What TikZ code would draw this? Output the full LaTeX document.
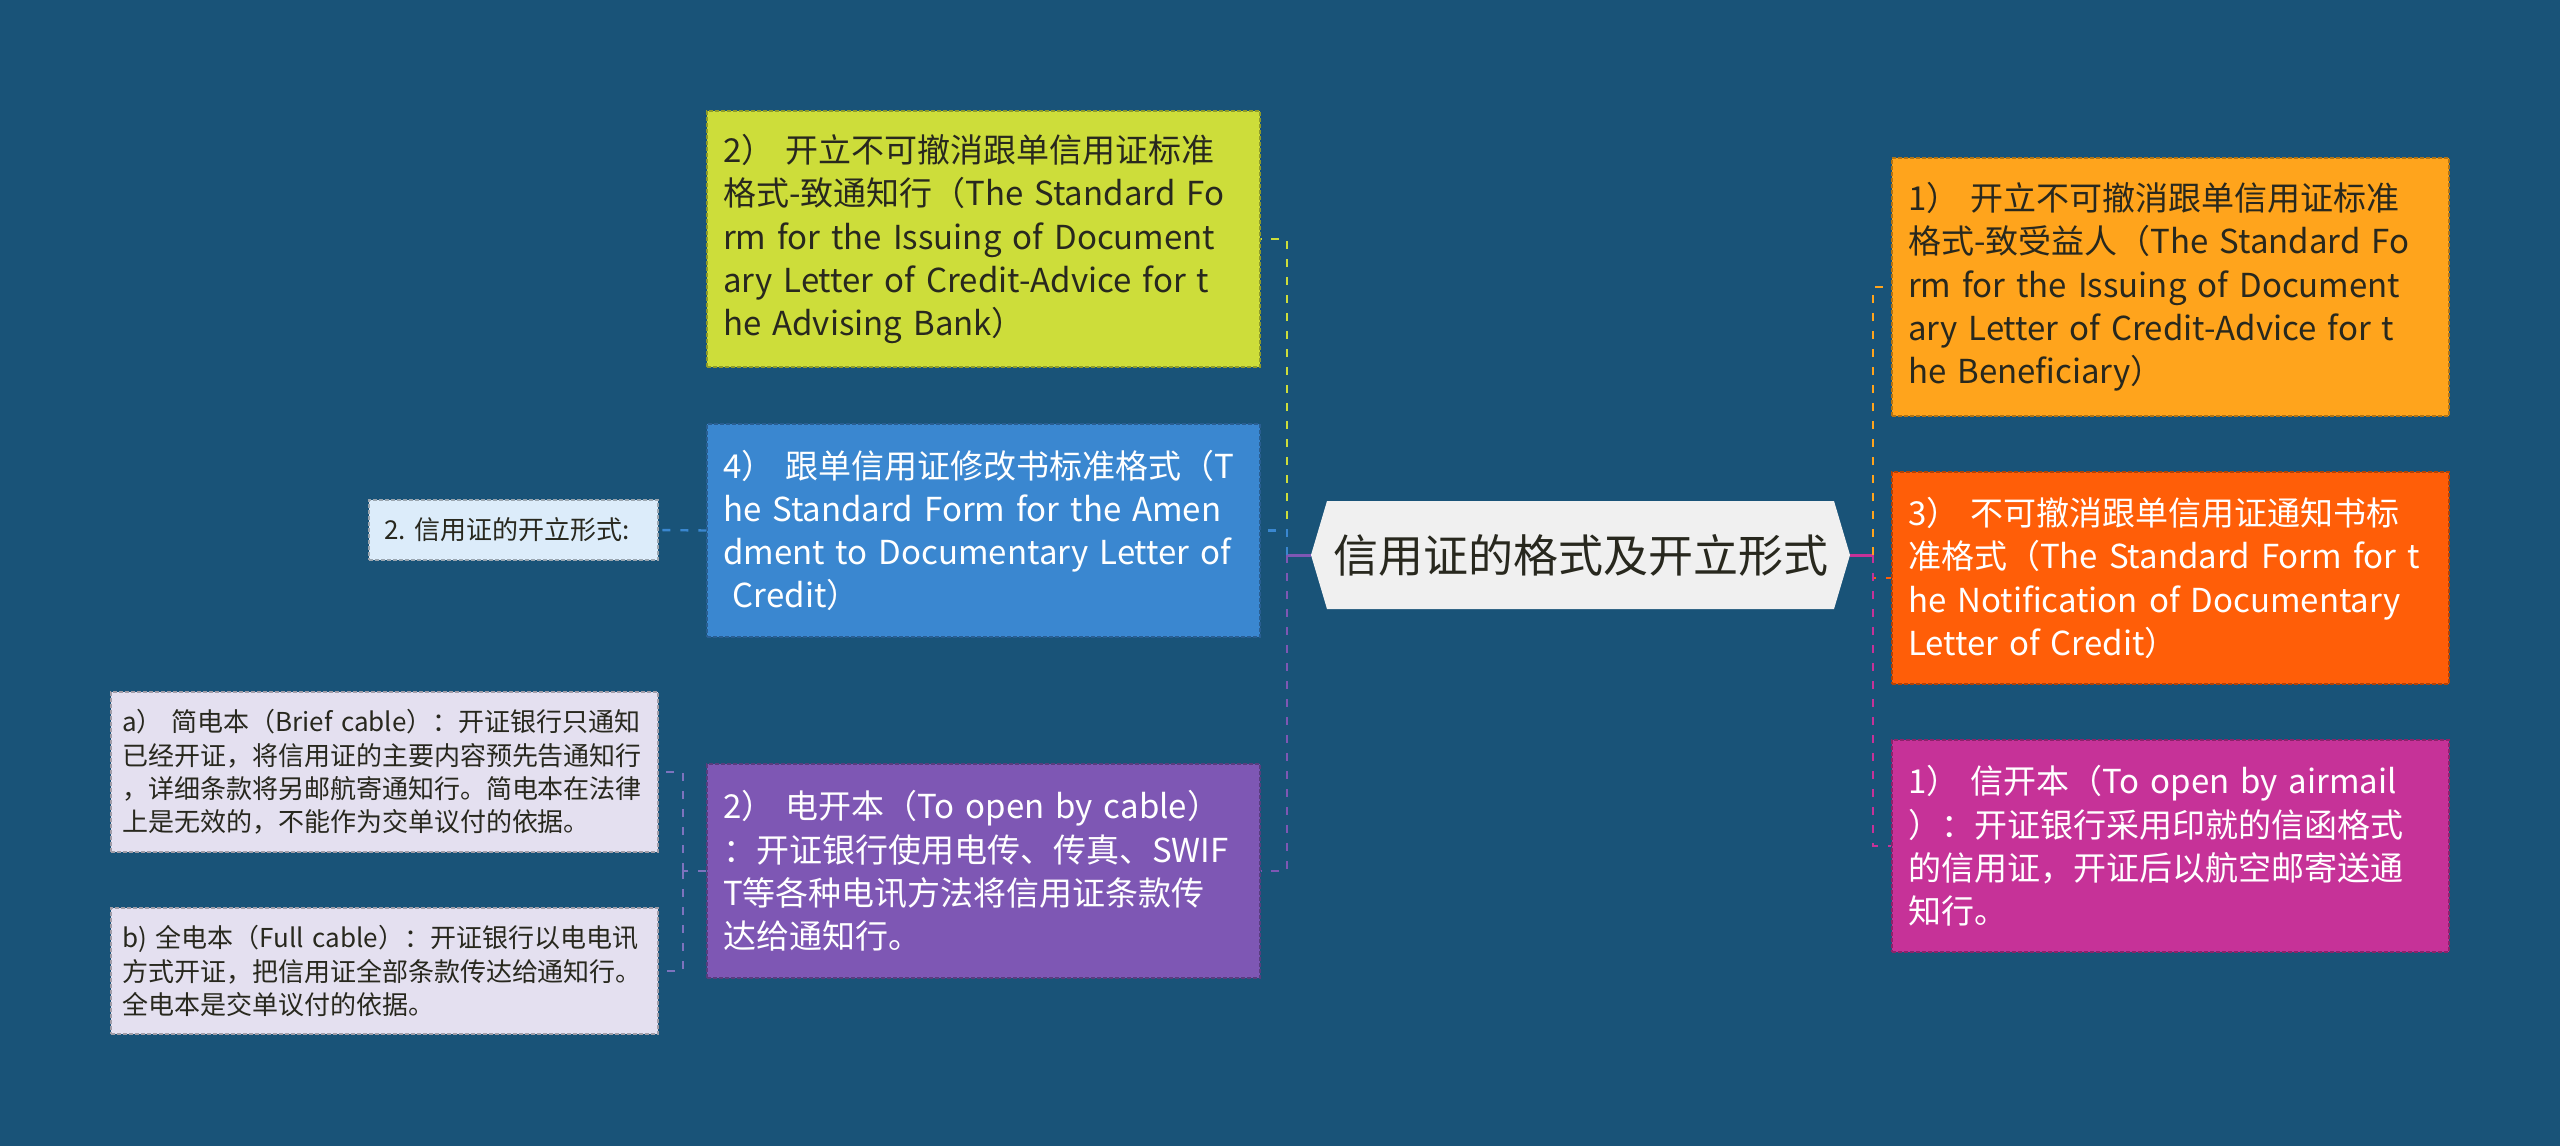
\documentclass[tikz,border=0pt]{standalone}
\usepackage{fontspec}
\newfontfamily\cjk{Noto Sans CJK SC}
\frenchspacing
\definecolor{bgcol}{RGB}{25,83,120}
\definecolor{advcol}{RGB}{205,221,58}
\definecolor{amendcol}{RGB}{58,135,208}
\definecolor{cablecol}{RGB}{126,87,180}
\definecolor{benefcol}{RGB}{255,164,28}
\definecolor{notifcol}{RGB}{255,94,8}
\definecolor{mailcol}{RGB}{198,50,152}
\definecolor{subcol}{RGB}{228,224,240}
\definecolor{formcol}{RGB}{220,236,250}
\definecolor{rootcol}{RGB}{240,240,240}
\definecolor{darktxt}{RGB}{40,40,30}
\definecolor{sublink}{RGB}{125,115,190}
\begin{document}
\begin{tikzpicture}[x=0.5pt,y=-0.5pt,
        box/.style={fill=#1, draw=#1!70!black, line width=0.6pt, dash pattern=on 2pt off 1pt, inner xsep=8pt, inner ysep=0pt, align=left},
        big/.style={box=#1, font=\cjk\fontsize{16.5}{21.65}\selectfont},
        small/.style={box=#1, inner xsep=5.5pt, text=darktxt, font=\cjk\fontsize{13}{16.67}\selectfont},
        link/.style={draw=#1, line width=1.2pt, dash pattern=on 4pt off 5pt}]
        \fill[bgcol] (0,0) rectangle (2560,1146);
        \coordinate (lj) at (1287,555);
        \coordinate (rj) at (1873,555);
        \coordinate (cj) at (683,871);
        \fill[rootcol] (1311,555) -- (1327,501) -- (1834,501) -- (1850,555) -- (1834,609) -- (1327,609) -- cycle;
        \node[minimum width=269.5pt, minimum height=54pt, inner sep=0pt, text=darktxt, font=\cjk\fontsize{22.5}{26}\selectfont] (root) at (1580.5,555) {信用证的格式及开立形式};
        \node[big=advcol, text=darktxt, text width=260.5pt, minimum height=128pt] (adv) at (983.5,239) {2） 开立不可撤消跟单信用证标准\\格式-致通知行（The Standard Fo\\rm for the Issuing of Document\\ary Letter of Credit-Advice for t\\he Advising Bank）};
        \node[big=amendcol, text=white, text width=260.5pt, minimum height=106.5pt] (amend) at (983.5,530.5) {4） 跟单信用证修改书标准格式（T\\he Standard Form for the Amen\\dment to Documentary Letter of\\ \hspace*{0.3em}Credit）};
        \node[big=cablecol, text=white, text width=260.5pt, minimum height=107pt] (cable) at (983.5,871) {2） 电开本（To open by cable）\\：开证银行使用电传、传真、SWIF\\T等各种电讯方法将信用证条款传\\达给通知行。};
        \node[big=benefcol, text=darktxt, text width=262.5pt, minimum height=129pt] (benef) at (2170.5,287) {1） 开立不可撤消跟单信用证标准\\格式-致受益人（The Standard Fo\\rm for the Issuing of Document\\ary Letter of Credit-Advice for t\\he Beneficiary）};
        \node[big=notifcol, text=white, text width=262.5pt, minimum height=106pt] (notif) at (2170.5,578) {3） 不可撤消跟单信用证通知书标\\准格式（The Standard Form for t\\he Notification of Documentary\\Letter of Credit）};
        \node[big=mailcol, text=white, text width=262.5pt, minimum height=106pt] (mail) at (2170.5,846) {1） 信开本（To open by airmail\\）：开证银行采用印就的信函格式\\的信用证，开证后以航空邮寄送通\\知行。};
        \node[small=formcol, inner xsep=7.5pt, text width=129.5pt, minimum height=30pt] (form) at (513.5,530) {2. 信用证的开立形式:};
        \node[small=subcol, text width=262.5pt, minimum height=80pt] (brief) at (384.5,772) {a） 简电本（Brief cable）：开证银行只通知\\已经开证，将信用证的主要内容预先告通知行\\，详细条款将另邮航寄通知行。简电本在法律\\上是无效的，不能作为交单议付的依据。};
        \node[small=subcol, text width=262.5pt, minimum height=63pt] (full) at (384.5,971) {b) 全电本（Full cable）：开证银行以电电讯\\方式开证，把信用证全部条款传达给通知行。\\全电本是交单议付的依据。};
        \draw[cablecol, line width=1.5pt] (root.west) -- (lj);
        \draw[link=advcol] (lj) |- (adv.east);
        \draw[link=amendcol] (lj) |- (amend.east);
        \draw[link=cablecol] (lj) |- (cable.east);
        \draw[mailcol, line width=1.5pt] (root.east) -- (rj);
        \draw[link=benefcol] (rj) |- (benef.west);
        \draw[link=notifcol] (rj) |- (notif.west);
        \draw[link=mailcol] (rj) |- (mail.west);
        \draw[link=amendcol] (amend.west) -- (form.east);
        \draw[link=sublink] (cable.west) -- (cj) (cj) |- (brief.east) (cj) |- (full.east);
\end{tikzpicture}
\end{document}
